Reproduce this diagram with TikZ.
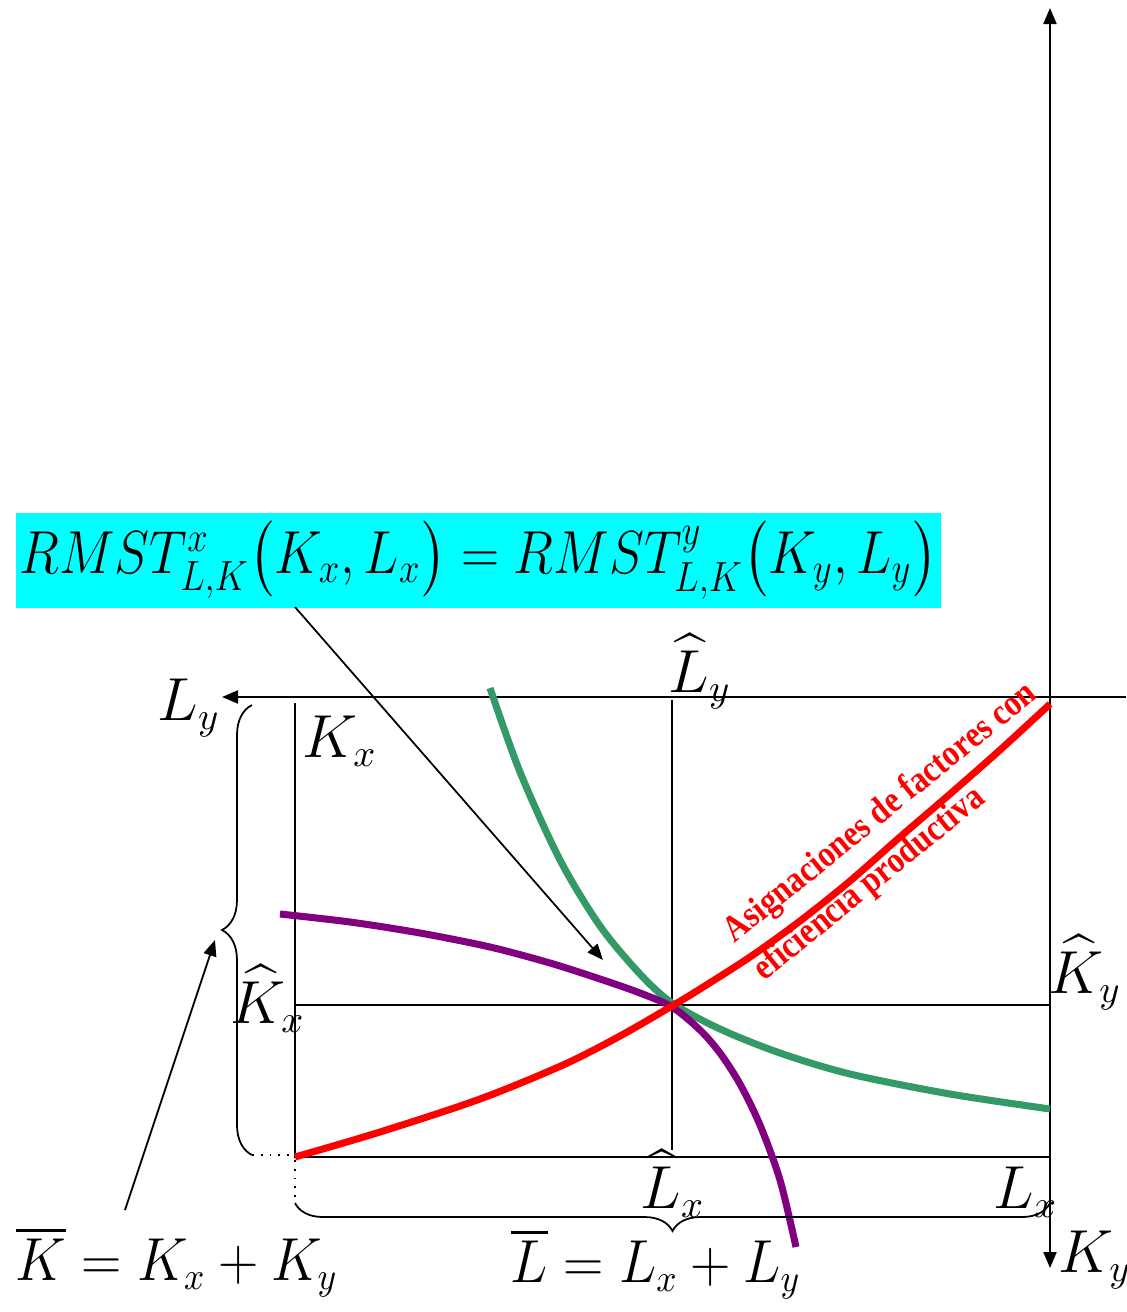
\documentclass[tikz,border=0pt]{standalone}
\usepackage{amsmath,amssymb}
\usepackage{graphicx}
\usepackage{fontspec}
\setmainfont{Liberation Serif}
\usetikzlibrary{arrows.meta, calc, decorations.pathreplacing}
\definecolor{aqua}{RGB}{0,255,255}
\definecolor{isoX}{RGB}{128,0,128}
\definecolor{isoY}{RGB}{51,153,102}

\begin{document}
\begin{tikzpicture}[x=0.01cm, y=-0.01cm, >={Triangle[length=0.16cm, width=0.13cm]}]
        \tikzstyle{axis} = [line width=0.6pt]
        \tikzstyle{guide} = [line width=0.5pt]
        \tikzstyle{curve} = [line width=2pt]
        \tikzstyle{lbl} = [inner sep=0pt, anchor=base west, font=\fontsize{16}{19}\selectfont]
        \tikzstyle{curly} = [line width=0.5pt, decorate, decoration={brace, amplitude=0.3cm}]
        \tikzstyle{redtext} = [red, inner sep=0pt, anchor=base west, rotate=39, font=\bfseries\fontsize{10.5}{12}\selectfont]

        \useasboundingbox (0,0) rectangle (1126,1312);

        % box corners and axes
        \coordinate (ky top) at (1050,8);
        \coordinate (ky bot) at (1050,1268);
        \coordinate (ly start) at (1126,697);
        \coordinate (ly end) at (222,697);
        \coordinate (kx top) at (295,703);
        \coordinate (ox) at (295,1157);
        \coordinate (lx end) at (1050,1157);
        \coordinate (kx hat) at (295,1005);
        \coordinate (ky hat) at (1050,1005);
        \coordinate (ly hat) at (672,700);
        \coordinate (lx hat) at (672,1150);

        \draw [axis,<->] (ky bot) -- (ky top);
        \draw [axis,->] (ly start) -- (ly end);
        \draw [axis] (kx top) -- (ox) -- (lx end);
        \draw [guide] (kx hat) -- (ky hat);
        \draw [guide] (ly hat) -- (lx hat);

        % isocuantas y curva de contrato
        \draw [curve, isoY] plot[smooth] coordinates {(490,688) (520,772) (560,860) (600,926) (640,974) (672,1003) (720,1029) (780,1053) (850,1074) (950,1094) (1050,1109)};
        \draw [curve, isoX] plot[smooth] coordinates {(280,914) (350,922) (420,933) (490,947) (550,963) (600,979) (640,993) (672,1007) (700,1030) (720,1053) (740,1084) (760,1125) (780,1180) (796,1247)};
        \draw [curve, red] plot[smooth] coordinates {(295,1157) (380,1132) (480,1099) (563,1065) (620,1036) (672,1006) (700,989) (750,957) (800,921) (850,881) (900,837) (950,794) (1000,750) (1050,704)};

        \node (efic1) [redtext] at (734,944) {\scalebox{0.87}[1]{Asignaciones de factores con}};
        \node (efic2) [redtext] at (764,982) {\scalebox{0.87}[1]{eficiencia productiva}};

        % braces
        \coordinate (bl top) at (252,705);
        \coordinate (bl bot) at (252,1155);
        \coordinate (bb left) at (295,1203);
        \coordinate (bb right) at (1050,1203);
        \draw [curly] (bl bot) -- (bl top);
        \draw [curly, decoration={amplitude=0.28cm}] (bb right) -- (bb left);
        \draw [dotted, line width=0.5pt] (bl bot) -- (295,1155);
        \draw [dotted, line width=0.5pt] (295,1160) -- (bb left);

        % labels
        \node (ly) [lbl] at (157,720) {$L_y$};
        \node (kx) [lbl] at (302,757) {$K_x$};
        \node (lyh) [lbl] at (668,692) {$\widehat{L}_y$};
        \node (kxh) [lbl] at (230,1023) {$\widehat{K}_x$};
        \node (kyh) [lbl] at (1048,993) {$\widehat{K}_y$};
        \node (lxh) [lbl] at (640,1208) {$\widehat{L}_x$};
        \node (lx) [lbl] at (993,1208) {$L_x$};
        \node (ky) [lbl] at (1058,1272) {$K_y$};
        \node (ksum) [lbl] at (15,1280) {\scalebox{0.92}[1]{$\overline{K}=K_x+K_y$}};
        \node (lsum) [lbl] at (510,1282) {\scalebox{0.92}[1]{$\overline{L}=L_x+L_y$}};

        % condicion de eficiencia
        \node (rmst) [fill=aqua, inner sep=0pt, anchor=north west, minimum width=9.25cm, minimum height=0.95cm, font=\fontsize{18}{22}\selectfont] at (15,512) {\scalebox{0.87}[1]{$RMST^x_{L,K}\bigl(K_x,L_x\bigr)=RMST^y_{L,K}\bigl(K_y,L_y\bigr)$}};

        \coordinate (tail1) at (295,607);
        \coordinate (head1) at (603,960);
        \coordinate (tail2) at (125,1210);
        \coordinate (head2) at (215,940);
        \draw [guide,->] (tail1) -- (head1);
        \draw [guide,->] (tail2) -- (head2);
    \end{tikzpicture}
\end{document}
